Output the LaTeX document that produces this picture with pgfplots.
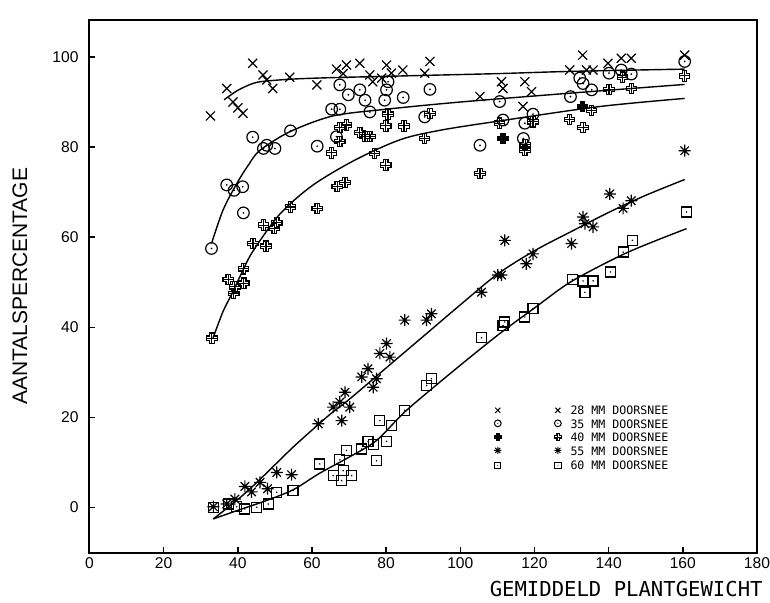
\documentclass[border=0pt]{standalone}
\usepackage{fontspec}
\setmainfont{Liberation Sans}
\newfontfamily\plotmono{DejaVu Sans Mono}
\usepackage{pgfplots}
\pgfplotsset{compat=1.18}

\pgfdeclareplotmark{odot}{%
  \pgfpathcircle{\pgfpointorigin}{\pgfplotmarksize}\pgfusepathqstroke
  \pgfpathcircle{\pgfpointorigin}{0.17\pgfplotmarksize}\pgfusepathqfill}
\pgfdeclareplotmark{sqdot}{%
  \pgfpathrectangle{\pgfqpoint{-\pgfplotmarksize}{-\pgfplotmarksize}}{\pgfqpoint{2\pgfplotmarksize}{2\pgfplotmarksize}}\pgfusepathqstroke
  \pgfpathcircle{\pgfpointorigin}{0.17\pgfplotmarksize}\pgfusepathqfill}
\pgfdeclareplotmark{star8}{%
  \pgfpathmoveto{\pgfqpoint{0pt}{\pgfplotmarksize}}\pgfpathlineto{\pgfqpoint{0pt}{-\pgfplotmarksize}}%
  \pgfpathmoveto{\pgfqpoint{\pgfplotmarksize}{0pt}}\pgfpathlineto{\pgfqpoint{-\pgfplotmarksize}{0pt}}%
  \pgfpathmoveto{\pgfqpoint{0.707\pgfplotmarksize}{0.707\pgfplotmarksize}}\pgfpathlineto{\pgfqpoint{-0.707\pgfplotmarksize}{-0.707\pgfplotmarksize}}%
  \pgfpathmoveto{\pgfqpoint{-0.707\pgfplotmarksize}{0.707\pgfplotmarksize}}\pgfpathlineto{\pgfqpoint{0.707\pgfplotmarksize}{-0.707\pgfplotmarksize}}%
  \pgfusepathqstroke}
\def\gcrosspath{%
  \pgfpathmoveto{\pgfqpoint{-0.42\pgfplotmarksize}{\pgfplotmarksize}}%
  \pgfpathlineto{\pgfqpoint{0.42\pgfplotmarksize}{\pgfplotmarksize}}%
  \pgfpathlineto{\pgfqpoint{0.42\pgfplotmarksize}{0.42\pgfplotmarksize}}%
  \pgfpathlineto{\pgfqpoint{\pgfplotmarksize}{0.42\pgfplotmarksize}}%
  \pgfpathlineto{\pgfqpoint{\pgfplotmarksize}{-0.42\pgfplotmarksize}}%
  \pgfpathlineto{\pgfqpoint{0.42\pgfplotmarksize}{-0.42\pgfplotmarksize}}%
  \pgfpathlineto{\pgfqpoint{0.42\pgfplotmarksize}{-\pgfplotmarksize}}%
  \pgfpathlineto{\pgfqpoint{-0.42\pgfplotmarksize}{-\pgfplotmarksize}}%
  \pgfpathlineto{\pgfqpoint{-0.42\pgfplotmarksize}{-0.42\pgfplotmarksize}}%
  \pgfpathlineto{\pgfqpoint{-\pgfplotmarksize}{-0.42\pgfplotmarksize}}%
  \pgfpathlineto{\pgfqpoint{-\pgfplotmarksize}{0.42\pgfplotmarksize}}%
  \pgfpathlineto{\pgfqpoint{-0.42\pgfplotmarksize}{0.42\pgfplotmarksize}}%
  \pgfpathclose}
\pgfdeclareplotmark{gcross}{%
  \gcrosspath\pgfusepathqstroke
  \pgfpathmoveto{\pgfqpoint{0pt}{\pgfplotmarksize}}\pgfpathlineto{\pgfqpoint{0pt}{-\pgfplotmarksize}}%
  \pgfpathmoveto{\pgfqpoint{\pgfplotmarksize}{0pt}}\pgfpathlineto{\pgfqpoint{-\pgfplotmarksize}{0pt}}%
  \pgfusepathqstroke}
\pgfdeclareplotmark{gcrossf}{%
  \gcrosspath\pgfusepathqfillstroke}

\begin{document}
\begin{tikzpicture}
\begin{axis}[
  name=ax,
  scale only axis, width=333.75pt, height=266.35pt,
  xmin=0, xmax=180, ymin=-10, ymax=108.2,
  xtick={0,20,...,180}, ytick={0,20,...,100},
  tick align=inside, xtick pos=left, ytick pos=left,
  major tick length=3pt,
  axis line style={line width=1pt},
  every tick/.style={black, line width=0.8pt},
  tick label style={font=\fontsize{7.8}{9}\selectfont},
  /pgf/number format/assume math mode=true,
  xticklabel style={yshift=1pt},
  yticklabel style={xshift=-2pt},
  clip=false,
  every axis plot/.append style={black},
]
% ---- 28 mm
\addplot[only marks, mark=x, mark size=3.2pt, mark options={line width=0.6pt}] coordinates {
(32.6,86.9) (37,93) (38.7,90) (40,88.7) (41.4,87.5) (44,98.6) (46.8,96) (47.8,94.9) (49.4,93) (54,95.5) (61.3,93.8) (66.6,97.3) (68.4,96.3) (69.3,98.2) (72.9,98.6) (75.6,96) (76.4,94.5) (78.8,95.3) (80.1,98.2) (81.4,96.4) (84.5,97.1) (90.4,96.4) (91.8,99) (105.3,91.2) (111.1,94.5) (111.5,93) (116.9,89) (117.4,94.5) (119.2,92.3) (129.5,97.1) (133,100.4) (134,97.1) (135.8,97.1) (139.8,98.6) (143.4,99.7) (146.1,99.7) (160.5,100.4)};
\addplot[smooth, no marks, line width=0.7pt] coordinates {
(36.3,90.5) (40,92.6) (44,94.1) (47,94.6) (55,95.1) (65,95.4) (80,95.7) (90,95.9) (110,96.3) (130,96.8) (160.5,97.3)};
% ---- 35 mm
\addplot[only marks, mark=odot, mark size=2.9pt, mark options={line width=0.6pt}] coordinates {
(32.9,57.5) (37,71.6) (39,70.4) (41.3,71.2) (41.5,65.4) (44,82.2) (46.9,79.7) (47.8,80.4) (50,79.7) (54.2,83.6) (61.4,80.2) (65.3,88.4) (66.6,82.3) (67.5,88.4) (67.5,93.8) (69.8,91.6) (72.9,92.7) (74.3,90.4) (75.6,87.8) (79.6,90.4) (80.1,92.7) (80.5,94.5) (84.6,91) (90.4,86.7) (91.8,92.8) (105.3,80.4) (110.6,90.1) (111.5,86) (117,81.9) (117.4,85.3) (119.6,87.3) (129.7,91.2) (132.2,95.3) (133.1,94.1) (135.4,92.7) (140.1,96.4) (143.4,97.1) (146.1,96.2) (160.5,99)};
\addplot[smooth, no marks, line width=0.7pt] coordinates {
(32.9,58.6) (36,66) (39.7,71.9) (43,76.2) (46,79.3) (54,83.4) (65.6,86.9) (80,88.4) (100,90) (128.6,91.9) (160.5,93.9)};
% ---- 40 mm
\addplot[only marks, mark=gcross, mark size=2.6pt, mark options={line width=0.55pt}] coordinates {
(33,37.6) (37.4,50.6) (38.9,47.5) (39.2,49) (41.6,49.8) (41.5,53) (44.1,58.6) (47.6,58) (46.9,62.7) (49.8,61.9) (50.5,63.2) (54.2,66.7) (61.4,66.4) (66.8,71.2) (68.9,72.1) (65.3,78.7) (67.5,81.2) (67.5,84.4) (69.3,84.9) (72.9,83.2) (74.3,82.3) (75.6,82.3) (76.9,78.6) (79.9,76) (79.9,84.7) (80.5,87.3) (84.8,84.7) (90.4,81.9) (91.8,87.5) (105.3,74.1) (110.6,85.3) (117.4,79.3) (117.5,80.5) (119.6,85.6) (129.5,86.1) (133.1,84.4) (135.4,88.1) (140.1,92.8) (143.7,95.5) (146.1,93) (160.5,95.8)};
\addplot[only marks, mark=gcrossf, mark size=2.6pt, mark options={line width=0.55pt}] coordinates {
(111.5,81.9) (132.9,89)};
\addplot[smooth, no marks, line width=0.7pt] coordinates {
(33.3,37.6) (36,43.5) (38.3,47.3) (41,52) (44,56.8) (51.3,65.1) (60.3,71.6) (72,77.3) (84,81.7) (95,83.8) (110.6,85.8) (137.6,89) (160.5,90.8)};
% ---- 55 mm
\addplot[only marks, mark=star8, mark size=3pt, mark options={line width=0.6pt}] coordinates {
(33.4,0.2) (37,0.8) (39.2,1.9) (41.9,4.7) (43.7,3.5) (46,5.6) (48,4.2) (50.5,7.8) (54.5,7.3) (61.7,18.6) (65.7,22.3) (67.5,23.4) (68,19.3) (68.9,25.6) (70.2,22.3) (73.4,29) (75.1,30.8) (76.5,26.7) (77.4,28.6) (78.3,34.2) (80.1,36.4) (81,33.4) (85,41.6) (90.9,41.6) (92.2,43) (105.7,47.8) (110.1,51.6) (111.1,51.6) (112,59.3) (117.8,54.1) (119.6,56.3) (130,58.6) (133.6,63) (133.1,64.5) (135.8,62.3) (140.3,69.6) (143.9,66.4) (146.1,68.1) (160.5,79.2)};
\addplot[smooth, no marks, line width=0.7pt] coordinates {
(33.4,-2.5) (40,1.8) (45,5.5) (50,9.5) (55,13.5) (60,17.2) (65,20.8) (70,24) (80,31) (90,38) (100,45) (110,51.8) (120,57) (130,61.3) (140,65.5) (150,69.3) (160.5,72.8)};
% ---- 60 mm
\addplot[only marks, mark=sqdot, mark size=2.5pt, mark options={line width=0.6pt}] coordinates {
(33.4,0.1) (37.4,0.8) (39.7,0.2) (41.9,-0.3) (45.1,0.1) (48.2,0.8) (50.5,3.4) (54.9,3.8) (62.1,9.7) (65.7,7.1) (67.5,10.6) (68,6) (68.4,8.2) (69.3,12.7) (70.7,7.1) (73.4,13) (75.1,14.7) (76.5,14) (77.4,10.4) (78.3,19.3) (80.1,14.7) (81.5,18.2) (85,21.6) (90.9,27.1) (92.2,28.6) (105.7,37.7) (111.5,40.4) (112,41.2) (117.4,42.3) (119.6,44.2) (130.2,50.6) (133.1,50.3) (133.6,47.8) (135.8,50.3) (140.5,52.3) (143.9,56.7) (146.4,59.3) (161,65.6)};
\addplot[smooth, no marks, line width=0.7pt] coordinates {
(33.4,-2.5) (40,-0.6) (47.8,1.6) (55,4) (62,7.6) (70,11.2) (77.4,14.9) (85.5,21.6) (100,31.6) (110.6,38.6) (120,44.3) (130,50.2) (145,56.6) (161,61.9)};
% ---- legend
\addplot[only marks, mark=x, mark size=1.8pt, mark options={line width=0.5pt}] coordinates {(110.1,21.6) (126.3,21.6)};
\addplot[only marks, mark=odot, mark size=1.7pt, mark options={line width=0.5pt}] coordinates {(110.1,18.7) (126.3,18.7)};
\addplot[only marks, mark=gcrossf, mark size=1.7pt, mark options={line width=0.5pt}] coordinates {(110.1,15.6)};
\addplot[only marks, mark=gcross, mark size=1.7pt, mark options={line width=0.5pt}] coordinates {(126.3,15.6)};
\addplot[only marks, mark=star8, mark size=1.8pt, mark options={line width=0.5pt}] coordinates {(110.1,12.7) (126.3,12.7)};
\addplot[only marks, mark=sqdot, mark size=1.6pt, mark options={line width=0.5pt}] coordinates {(110.1,9.3) (126.3,9.3)};
\begin{scope}[every node/.style={anchor=west, inner sep=0pt, font=\plotmono\fontsize{5.8}{6}\selectfont}]
\node at (axis cs:129.6,21.6) {28 MM DOORSNEE};
\node at (axis cs:129.6,18.6) {35 MM DOORSNEE};
\node at (axis cs:129.6,15.6) {40 MM DOORSNEE};
\node at (axis cs:129.6,12.6) {55 MM DOORSNEE};
\node at (axis cs:129.6,9.3) {60 MM DOORSNEE};
\end{scope}
\node[anchor=base east, inner sep=0pt, font=\plotmono\fontsize{10.3}{12}\selectfont] at ([yshift=-22.15pt]rel axis cs:1.009,0) {GEMIDDELD PLANTGEWICHT};
\node[rotate=90, anchor=center, inner sep=0pt, font=\fontsize{10.5}{12}\selectfont] at ([xshift=-34.75pt]rel axis cs:0,0.5) {AANTALSPERCENTAGE};
\end{axis}
\pgfresetboundingbox
\path ([shift={(-44.75pt,-25.15pt)}]ax.south west) rectangle ([shift={(6.5pt,10pt)}]ax.north east);
\end{tikzpicture}
\end{document}
